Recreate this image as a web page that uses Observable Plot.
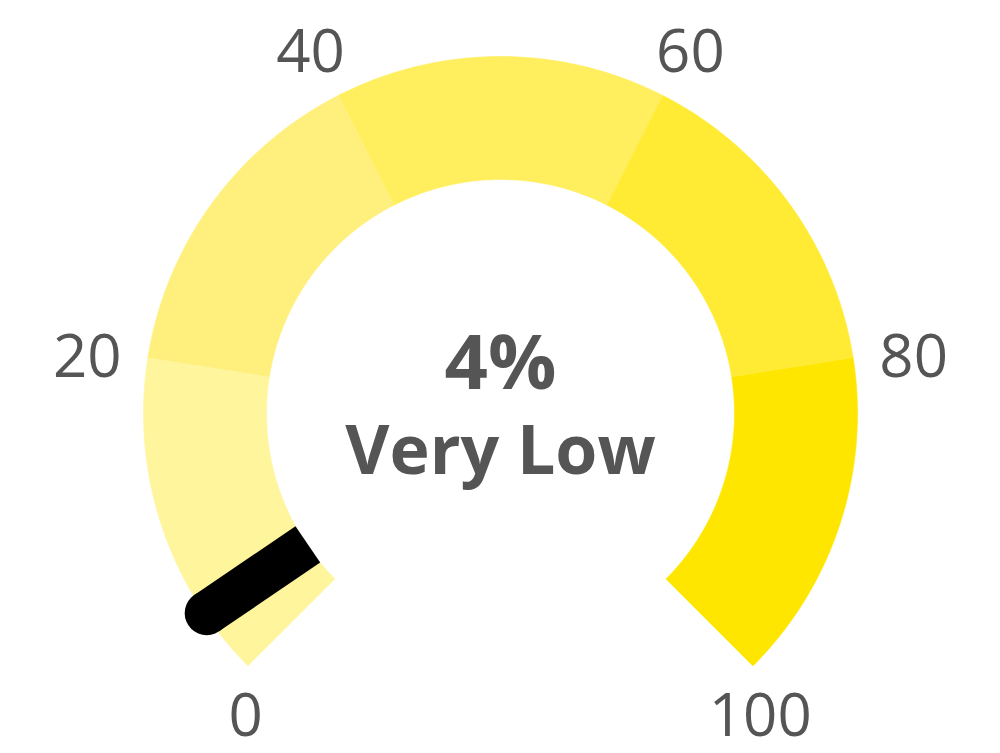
<!DOCTYPE html>
<html>
<head>
<meta charset="utf-8">
<script src="https://cdn.jsdelivr.net/npm/d3@7"></script>
<script src="https://cdn.jsdelivr.net/npm/@observablehq/plot@0.6"></script>
<style>
  html, body { margin: 0; padding: 0; background: #ffffff; }
  #chart { width: 1000px; height: 753px; }
  svg { font-family: "Open Sans", "Noto Sans", sans-serif; }
</style>
</head>
<body>
<div id="chart"></div>
<script>
// ---- data ----
const bandStarts = [0, 20, 40, 60, 80];
const bandEnds = [20, 40, 60, 80, 100];
const bandColors = ["#FFF59D", "#FFF07E", "#FFEE5E", "#FFEB33", "#FFE600"];
const tickValues = [0, 20, 40, 60, 80, 100];
const tickLabels = ["0", "20", "40", "60", "80", "100"];
const gaugeValue = 4;
const valueText = "4%";
const categoryText = "Very Low";

// ---- geometry (layout) ----
const W = 1000, H = 753;
const CX = 500, CY = 413;       // gauge centre in pixels
const RO = 357;                 // outer radius px (= 1 unit)
const innerR = 234 / RO;        // inner radius in units
const startAngle = -135, sweep = 270;
const angleOf = v => (startAngle + sweep * v / 100) * Math.PI / 180;
const pt = (v, r) => ({ x: r * Math.sin(angleOf(v)), y: r * Math.cos(angleOf(v)) });

// band polygons
const polys = [];
bandStarts.forEach((v0, i) => {
  const v1 = bandEnds[i], n = 80;
  for (let k = 0; k <= n; k++) polys.push({ band: i, ...pt(v0 + (v1 - v0) * k / n, 1) });
  for (let k = n; k >= 0; k--) polys.push({ band: i, ...pt(v0 + (v1 - v0) * k / n, innerR) });
});

// tick label positions (computed from angle, in px then converted to units)
const tickFs = 60, gap = 27;
const tickPos = tickValues.map((v, i) => {
  const a = angleOf(v);
  const ux = Math.sin(a), uy = -Math.cos(a);      // screen direction (y down)
  const ex = CX + RO * ux, ey = CY + RO * uy;
  const w = tickLabels[i].length * 0.572 * tickFs, h = 0.714 * tickFs;
  let px, py;
  if (Math.abs(startAngle + sweep * v / 100) > 120) {
    px = ex + ux * w * 0.1; py = ey + gap + h / 2;
  } else {
    px = ex + gap * ux + ux * w / 2;
    py = ey + uy * Math.abs(uy) * (gap + h / 2 + 8);
  }
  return { label: tickLabels[i], x: (px - CX) / RO, y: (CY - py) / RO };
});

const needle = [pt(gaugeValue, innerR - 0.003), pt(gaugeValue, 0.995)];

const chart = Plot.plot({
  width: W,
  height: H,
  margin: 0,
  x: { domain: [-CX / RO, (W - CX) / RO], axis: null },
  y: { domain: [(CY - H) / RO, CY / RO], axis: null },
  color: { type: "identity" },
  style: { background: "#ffffff", fontFamily: "'Open Sans', 'Noto Sans', sans-serif" },
  marks: [
    Plot.line(polys, {
      x: "x", y: "y", z: "band",
      fill: d => bandColors[d.band],
      stroke: d => bandColors[d.band],
      strokeWidth: 0.6
    }),
    Plot.line(needle, { x: "x", y: "y", stroke: "#000000", strokeWidth: 44, strokeLinecap: "butt" }),
    Plot.dot([needle[1]], { x: "x", y: "y", r: 22, fill: "#000000", stroke: "none" }),
    Plot.text(tickPos, {
      x: "x", y: "y", text: "label",
      fontSize: tickFs, fill: "#555555", textAnchor: "middle", lineAnchor: "middle", dy: 2
    }),
    Plot.text([valueText], {
      x: () => 0, y: () => (CY - 364) / RO, text: d => d,
      fontSize: 76, fontWeight: 700, fill: "#555555", textAnchor: "middle", lineAnchor: "middle"
    }),
    Plot.text([categoryText], {
      x: () => 0, y: () => (CY - 452) / RO, text: d => d,
      fontSize: 68, fontWeight: 700, fill: "#555555", textAnchor: "middle", lineAnchor: "middle"
    })
  ]
});
document.getElementById("chart").appendChild(chart);
</script>
</body>
</html>
